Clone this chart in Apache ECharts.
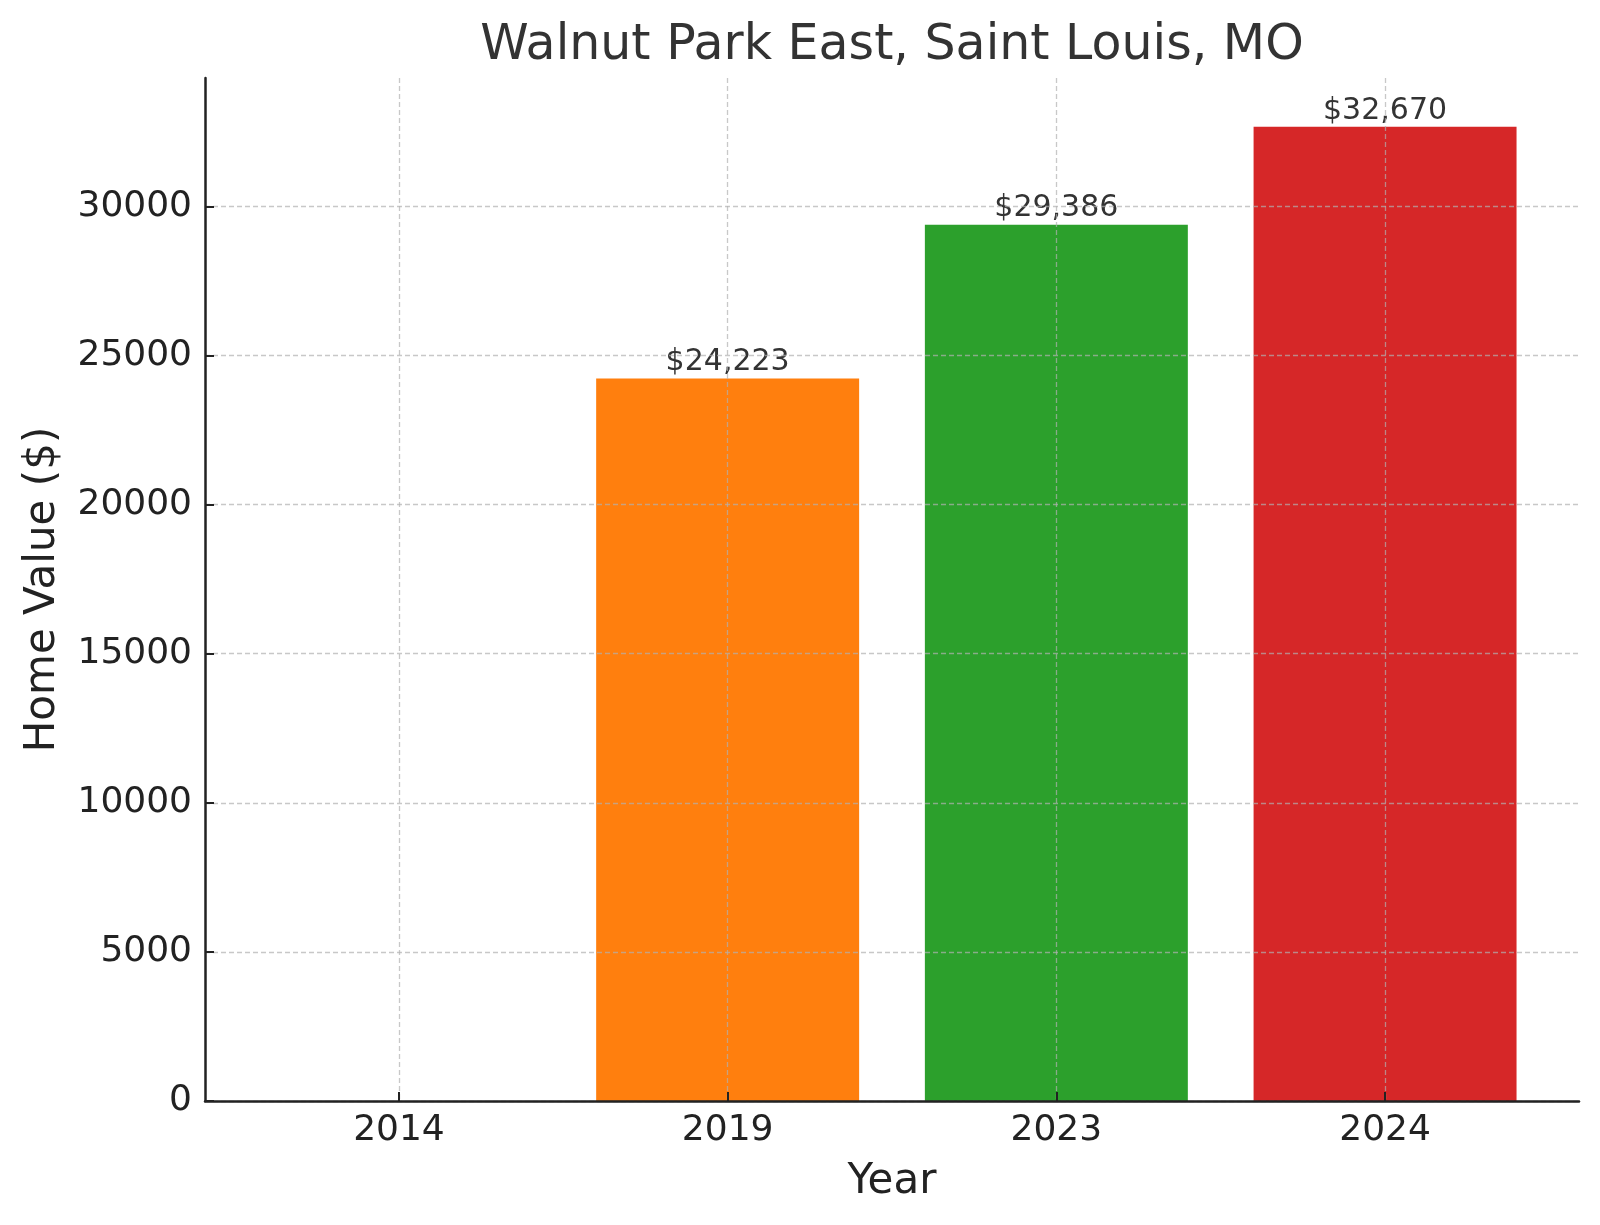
<!DOCTYPE html>
<html>
<head>
<meta charset="utf-8">
<script src="https://cdn.jsdelivr.net/npm/echarts@6/dist/echarts.min.js"></script>
<style>
  html, body { margin: 0; padding: 0; background: #ffffff; }
  #chart { width: 1600px; height: 1225px; }
</style>
</head>
<body>
<div id="chart"></div>
<script>
// ---- Data ----
const titleText = 'Walnut Park East, Saint Louis, MO';
const years = ['2014', '2019', '2023', '2024'];
const homeValues = [null, 24223, 29386, 32670];
const barColors = ['#1f77b4', '#ff7f0e', '#2ca02c', '#d62728'];
const yTicks = [0, 5000, 10000, 15000, 20000, 25000, 30000];
const xTickPositions = [0, 1, 2, 3];

const FONT = '"DejaVu Sans", sans-serif';
const gridLine = { show: true, lineStyle: { color: 'rgba(176,176,176,0.7)', width: 1.3, type: [5, 3] } };

const maxVal = Math.max.apply(null, homeValues.filter(v => v != null));
const yMax = maxVal * 1.05;

const barData = homeValues.map((v, i) => ({
  value: [i, v],
  itemStyle: { color: barColors[i] }
}));

const GRID_LEFT = 205, GRID_RIGHT = 21;
const plotCenterX = GRID_LEFT + (1600 - GRID_LEFT - GRID_RIGHT) / 2;

const chart = echarts.init(document.getElementById('chart'), null, { renderer: 'canvas' });
chart.setOption({
  animation: false,
  backgroundColor: '#ffffff',
  title: {
    text: titleText,
    left: plotCenterX,
    textAlign: 'center',
    top: 22,
    padding: 0,
    textStyle: { fontFamily: FONT, fontSize: 49, fontWeight: 'normal', color: '#333333' }
  },
  grid: { left: GRID_LEFT, right: GRID_RIGHT, top: 78, bottom: 124, containLabel: false },
  xAxis: {
    type: 'value',
    min: -0.59,
    max: 3.59,
    z: 5,
    name: 'Year',
    nameLocation: 'middle',
    nameGap: 60,
    nameTextStyle: { fontFamily: FONT, fontSize: 42, color: '#222222' },
    axisLine: { show: true, onZero: false, lineStyle: { color: '#222222', width: 2.5 } },
    axisTick: { show: true, inside: true, length: 9, customValues: xTickPositions, lineStyle: { color: '#222222', width: 2 } },
    axisLabel: {
      customValues: xTickPositions,
      margin: 12,
      fontFamily: FONT, fontSize: 36, color: '#222222',
      formatter: v => years[Math.round(v)]
    },
    splitLine: gridLine
  },
  yAxis: {
    type: 'value',
    min: 0,
    max: yMax,
    z: 5,
    name: 'Home Value ($)',
    nameLocation: 'middle',
    nameGap: 141,
    nameRotate: 90,
    nameTextStyle: { fontFamily: FONT, fontSize: 42, color: '#222222' },
    axisLine: { show: true, onZero: false, lineStyle: { color: '#222222', width: 2.5 } },
    axisTick: { show: true, inside: true, length: 9, customValues: yTicks, lineStyle: { color: '#222222', width: 2 } },
    axisLabel: {
      customValues: yTicks,
      margin: 13,
      fontFamily: FONT, fontSize: 36, color: '#222222',
      formatter: v => String(Math.round(v))
    },
    splitLine: gridLine
  },
  series: [{
    type: 'bar',
    barWidth: '80%',
    data: barData,
    label: {
      show: true,
      position: 'top',
      distance: 1,
      fontFamily: FONT, fontSize: 30, color: '#333333',
      formatter: p => p.value[1] == null ? '' : '$' + p.value[1].toLocaleString('en-US')
    }
  }]
});
</script>
</body>
</html>
